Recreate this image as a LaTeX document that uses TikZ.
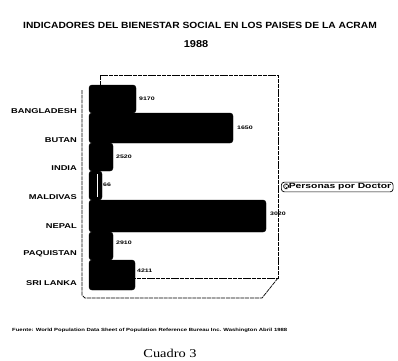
\documentclass[tikz,border=0pt]{standalone}
\usepackage{fontspec}
\setmainfont{Liberation Sans}
\newfontfamily\serifcap{Liberation Serif}
\usetikzlibrary{patterns}
\begin{document}
\begin{tikzpicture}[x=1pt,y=-1pt,
  bar/.style={fill=black,draw=black,rounded corners=3pt},
  frameline/.style={draw=black,line width=0.7pt,dash pattern=on 4pt off 0.8pt},
  cat/.style={anchor=east,inner sep=0pt,font=\bfseries\fontsize{7}{7}\selectfont},
  val/.style={anchor=west,inner sep=0pt,font=\bfseries\fontsize{5}{5}\selectfont},
  ttl/.style={inner sep=0pt,font=\bfseries\fontsize{9}{9}\selectfont}]
\useasboundingbox[fill=white] (0,0) rectangle (398,360);
% title
\node[ttl] (title) at (200,25) {\scalebox{1.14}[1]{INDICADORES DEL BIENESTAR SOCIAL EN LOS PAISES DE LA ACRAM}};
\node[ttl,font=\bfseries\fontsize{10}{10}\selectfont] (year) at (196,44) {\scalebox{1.1}[1]{1988}};
% frame
\coordinate (bt1) at (100,75);
\coordinate (bt0) at (100,85);
\coordinate (bt2) at (278,75);
\coordinate (br) at (278,278);
\coordinate (bf) at (134,278);
\coordinate (fr) at (262,298);
\coordinate (fl) at (85,298);
\coordinate (fa) at (82,295);
\coordinate (ft) at (82,90);
\draw[frameline] (bt0) -- (bt1) -- (bt2) -- (br) -- (bf);
\draw[frameline] (br) -- (fr) -- (fl) -- (fa) -- (ft);
% bars
\path[bar] (89,85) rectangle (136,113);
\path[bar] (89,113) rectangle (233,143);
\path[bar] (89,143) rectangle (113,171);
\path[bar] (89,171) rectangle (102,200);
\path[bar] (89,200) rectangle (266,232);
\path[bar] (89,232) rectangle (113,260);
\path[bar] (89,260) rectangle (135,290);
\draw[white,line width=0.8pt] (97.5,174) -- (97.5,197);
% category labels
\node[cat] (c1) at (77,111) {\scalebox{1.33}[1]{BANGLADESH}};
\node[cat] (c2) at (77,140) {\scalebox{1.33}[1]{BUTAN}};
\node[cat] (c3) at (77,168) {\scalebox{1.33}[1]{INDIA}};
\node[cat] (c4) at (77,197) {\scalebox{1.33}[1]{MALDIVAS}};
\node[cat] (c5) at (77,226) {\scalebox{1.33}[1]{NEPAL}};
\node[cat] (c6) at (77,254) {\scalebox{1.33}[1]{PAQUISTAN}};
\node[cat] (c7) at (77,283) {\scalebox{1.33}[1]{SRI LANKA}};
% values
\node[val] (v1) at (139,99) {\scalebox{1.4}[1]{9170}};
\node[val] (v2) at (237,128) {\scalebox{1.4}[1]{1650}};
\node[val] (v3) at (116,157) {\scalebox{1.4}[1]{2520}};
\node[val] (v4) at (103,185) {\scalebox{1.4}[1]{66}};
\node[val] (v5) at (270,214) {\scalebox{1.4}[1]{3020}};
\node[val] (v6) at (116,243) {\scalebox{1.4}[1]{2910}};
\node[val] (v7) at (137,271) {\scalebox{1.4}[1]{4211}};
% legend
\node[draw=black,line width=0.7pt,rounded corners=3pt,inner xsep=2pt,inner ysep=1.5pt,anchor=west,
  font=\bfseries\fontsize{7.5}{7.5}\selectfont] (leg) at (281,187)
  {\tikz[baseline=0pt]\draw[pattern=crosshatch dots,line width=0.4pt] (0,0) rectangle (5pt,5pt);\scalebox{1.38}[1]{Personas por Doctor}};
% source
\node[inner sep=0pt,anchor=west,font=\bfseries\fontsize{4.5}{4.5}\selectfont] (src) at (12,330)
  {\scalebox{1.32}[1]{Fuente: World Population Data Sheet of Population Reference Bureau Inc. Washington Abril 1988}};
\node[inner sep=0pt,font=\serifcap\fontsize{12}{12}\selectfont] (cuadro) at (170,353) {\scalebox{1.2}[1]{Cuadro 3}};
\end{tikzpicture}
\end{document}
